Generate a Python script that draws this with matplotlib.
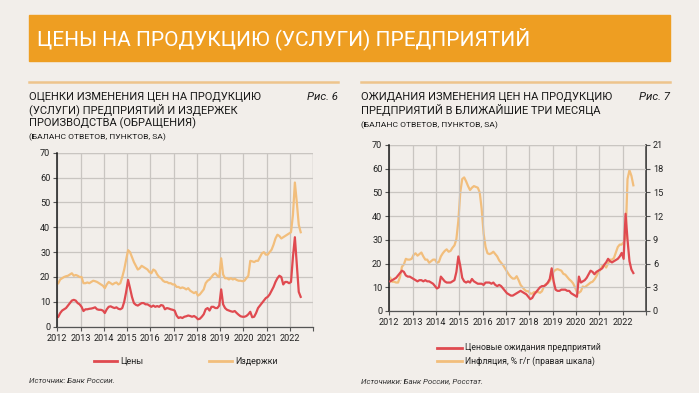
import numpy as np
import matplotlib
matplotlib.use("Agg")
import matplotlib.pyplot as plt
from matplotlib.patches import Rectangle
from matplotlib.lines import Line2D

plt.rcParams['font.family'] = ['Roboto', 'DejaVu Sans']

# ---------------------------------------------------------------- data
# monthly, Jan 2012 .. Jun 2022
years = list(range(2012, 2023))

prices = [
    4.0, 5.5, 6.5, 7.0, 7.5, 8.5, 9.5, 10.5, 10.8, 10.5, 9.5, 9.0,
    8.0, 6.3, 7.0, 7.0, 7.2, 7.3, 7.5, 7.8, 7.0, 6.8, 6.8, 6.5,
    5.5, 7.0, 8.0, 8.2, 7.8, 7.5, 7.8, 7.2, 7.0, 7.5, 10.0, 14.0,
    18.8, 15.5, 12.0, 9.5, 8.8, 8.5, 9.0, 9.5, 9.5, 9.0, 9.0, 8.5,
    8.0, 8.5, 8.0, 8.3, 8.0, 8.7, 8.5, 7.0, 7.5, 7.3, 7.0, 6.8,
    6.5, 4.5, 3.5, 3.8, 3.5, 4.0, 4.2, 4.5, 4.3, 4.0, 4.3, 3.8,
    3.0, 3.2, 4.0, 5.0, 7.0, 7.5, 6.5, 8.0, 8.0, 7.5, 7.5, 8.5,
    15.0, 9.0, 7.5, 6.8, 6.5, 6.2, 6.0, 6.3, 5.5, 4.8, 4.2, 4.0,
    4.0, 4.3, 5.0, 6.0, 3.8, 4.0, 5.5, 7.5, 8.5, 9.5, 10.5, 11.5,
    12.0, 13.0, 14.5, 16.0, 18.0, 19.5, 20.5, 20.0, 17.0, 18.0, 18.0, 17.5,
    18.0, 28.0, 36.0, 25.0, 14.0, 12.0,
]

costs = [
    17.5, 19.0, 19.5, 20.0, 20.3, 20.5, 21.0, 21.5, 20.5, 20.8, 20.5, 20.0,
    20.0, 17.5, 17.5, 17.8, 17.5, 18.0, 18.5, 18.3, 18.0, 17.5, 17.0, 16.5,
    15.5, 17.0, 18.0, 17.5, 17.0, 17.5, 17.8, 17.0, 17.5, 20.0, 23.0, 27.0,
    30.8, 30.0, 28.0, 26.0, 24.5, 23.0, 23.5, 24.5, 24.0, 23.5, 23.0, 22.0,
    21.5, 23.0, 22.5, 21.0, 20.0, 19.5, 18.5, 18.0, 18.0, 17.5, 17.5, 17.0,
    17.0, 16.0, 16.0, 15.5, 15.8, 15.5, 15.0, 15.5, 14.5, 14.0, 13.5, 14.0,
    12.5, 13.0, 14.0, 15.0, 17.5, 18.5, 19.0, 20.0, 21.0, 21.5, 20.5, 20.0,
    27.5, 21.0, 19.5, 19.5, 19.0, 19.5, 19.0, 19.3, 18.8, 18.5, 18.5, 18.3,
    18.5, 19.5, 20.5, 26.5, 26.3, 26.0, 26.5, 26.5, 28.0, 29.5, 30.0, 29.0,
    29.0, 30.0, 31.0, 33.0, 35.5, 37.0, 36.5, 35.5, 36.0, 36.5, 37.0, 37.5,
    38.0, 45.0, 58.0, 50.0, 41.0, 38.0,
]

expectations = [
    12.5, 13.0, 13.5, 14.0, 15.0, 16.0, 17.0, 16.5, 15.0, 14.5, 14.5, 14.0,
    13.5, 13.0, 12.5, 13.0, 13.0, 12.5, 13.0, 12.5, 12.5, 12.0, 11.5, 10.5,
    9.5, 10.0, 14.5, 13.5, 12.5, 12.0, 12.0, 12.0, 12.5, 13.0, 16.5, 23.0,
    19.0, 14.0, 12.5, 12.0, 12.5, 12.0, 13.5, 12.5, 12.0, 11.5, 11.5, 11.5,
    11.0, 12.0, 12.0, 12.0, 11.5, 12.0, 11.0, 10.5, 11.0, 10.5, 9.5, 8.5,
    7.5, 7.0, 6.5, 6.5, 7.0, 7.5, 8.0, 8.5, 8.0, 7.5, 7.0, 6.0,
    5.0, 5.5, 7.0, 8.0, 9.0, 10.0, 10.5, 10.5, 11.0, 12.0, 13.5, 18.0,
    12.5, 9.0, 8.5, 8.5, 9.0, 9.0, 9.0, 8.5, 8.5, 7.5, 7.0, 6.5,
    6.0, 14.5, 12.0, 12.5, 13.0, 14.0, 15.5, 17.0, 16.5, 15.5, 16.5, 17.0,
    17.5, 18.0, 19.5, 20.5, 22.0, 21.0, 20.5, 21.0, 21.5, 22.0, 23.0, 24.5,
    22.0, 41.0, 30.0, 21.0, 17.5, 16.0,
]

inflation = [
    4.2, 3.7, 3.7, 3.6, 3.6, 4.3, 5.6, 5.9, 6.6, 6.5, 6.5, 6.6,
    7.1, 7.3, 7.0, 7.2, 7.4, 6.9, 6.5, 6.5, 6.1, 6.3, 6.5, 6.5,
    6.1, 6.2, 6.9, 7.3, 7.6, 7.8, 7.5, 7.6, 8.0, 8.3, 9.1, 11.4,
    15.0, 16.7, 16.9, 16.4, 15.8, 15.3, 15.6, 15.8, 15.7, 15.6, 15.0, 12.9,
    9.8, 8.1, 7.3, 7.2, 7.3, 7.5, 7.2, 6.9, 6.4, 6.1, 5.8, 5.4,
    5.0, 4.6, 4.3, 4.1, 4.1, 4.4, 3.9, 3.3, 3.0, 2.7, 2.5, 2.5,
    2.2, 2.2, 2.4, 2.4, 2.4, 2.3, 2.5, 3.1, 3.4, 3.5, 3.8, 4.3,
    5.0, 5.2, 5.3, 5.2, 5.1, 4.7, 4.6, 4.3, 4.0, 3.8, 3.5, 3.0,
    2.4, 2.3, 2.5, 3.1, 3.0, 3.2, 3.4, 3.6, 3.7, 4.0, 4.4, 4.9,
    5.2, 5.7, 5.8, 5.5, 6.0, 6.5, 6.5, 6.7, 7.4, 8.1, 8.4, 8.4,
    8.7, 9.2, 16.7, 17.8, 17.1, 15.9,
]

x = 2012 + (np.arange(len(prices)) + 0.5) / 12

# ---------------------------------------------------------------- style
BG = '#F2EEEA'
ORANGE = '#EE9E22'
RED = '#E04A50'
LIGHT = '#F2BE7C'
GRID = '#C9C5C1'
W, H = 699, 393


def fx(px):
    return px / W


def fy(py):
    return 1 - py / H


fig = plt.figure(figsize=(W / 100, H / 100), dpi=100, facecolor=BG)

# banner
fig.patches.append(Rectangle((fx(29), fy(61)), fx(670) - fx(29), fy(15) - fy(61),
                             transform=fig.transFigure, color=ORANGE, zorder=0))
fig.text(fx(37), fy(38.5), 'ЦЕНЫ НА ПРОДУКЦИЮ (УСЛУГИ) ПРЕДПРИЯТИЙ',
         color='white', fontsize=15, va='center', ha='left')

# thin separators
for x0, x1 in [(29, 338), (361, 670)]:
    fig.add_artist(Line2D([fx(x0), fx(x1)], [fy(82), fy(82)], color='#EEC48C', lw=1.8))

# titles
title_kw = dict(fontsize=8.0, color='#1A1A1A', va='center', ha='left')
fig.text(fx(29), fy(97), 'ОЦЕНКИ ИЗМЕНЕНИЯ ЦЕН НА ПРОДУКЦИЮ', **title_kw)
fig.text(fx(29), fy(110), '(УСЛУГИ) ПРЕДПРИЯТИЙ И ИЗДЕРЖЕК', **title_kw)
fig.text(fx(29), fy(123), 'ПРОИЗВОДСТВА (ОБРАЩЕНИЯ)', **title_kw)
fig.text(fx(29), fy(137), '(БАЛАНС ОТВЕТОВ, ПУНКТОВ, SA)', fontsize=6.1, color='#1A1A1A', va='center')
fig.text(fx(338), fy(97), 'Рис. 6', fontsize=8.2, style='italic', color='#1A1A1A', va='center', ha='right')

fig.text(fx(361), fy(97), 'ОЖИДАНИЯ ИЗМЕНЕНИЯ ЦЕН НА ПРОДУКЦИЮ', **title_kw)
fig.text(fx(361), fy(110), 'ПРЕДПРИЯТИЙ В БЛИЖАЙШИЕ ТРИ МЕСЯЦА', **title_kw)
fig.text(fx(361), fy(125), '(БАЛАНС ОТВЕТОВ, ПУНКТОВ, SA)', fontsize=6.1, color='#1A1A1A', va='center')
fig.text(fx(670), fy(97), 'Рис. 7', fontsize=8.2, style='italic', color='#1A1A1A', va='center', ha='right')

# sources
fig.text(fx(29), fy(381), 'Источник: Банк России.', fontsize=5.7, style='italic', color='#333333', va='center')
fig.text(fx(361), fy(381), 'Источники: Банк России, Росстат.', fontsize=5.7, style='italic', color='#333333', va='center')


def setup(ax):
    ax.set_facecolor(BG)
    ax.set_xlim(2012, 2023)
    ax.set_ylim(0, 70)
    ax.set_xticks(range(2012, 2024))
    ax.set_xticklabels([str(y) for y in years] + [''])
    ax.set_yticks(range(0, 71, 10))
    ax.grid(True, color=GRID, lw=0.9, zorder=0)
    ax.set_axisbelow(True)
    for s in ['top', 'right']:
        ax.spines[s].set_visible(False)
    ax.spines['left'].set_color('#1A1A1A')
    ax.spines['left'].set_linewidth(1.1)
    ax.spines['bottom'].set_color('#555555')
    ax.spines['bottom'].set_linewidth(0.9)
    ax.tick_params(axis='both', labelsize=6.6, colors='#555555', labelcolor='#222222',
                   length=3, width=0.8, pad=2)
    # close the frame with grid-coloured top/right lines
    ax.axhline(70, color=GRID, lw=0.9, zorder=0)
    ax.axvline(2023, color=GRID, lw=0.9, zorder=0)


# ---------------------------------------------------------------- left chart
ax1 = fig.add_axes([fx(57.3), fy(326.7), fx(313.3) - fx(57.3), fy(152.7) - fy(326.7)])
setup(ax1)
ax1.plot(x, costs, color=LIGHT, lw=1.6, solid_joinstyle='round')
ax1.plot(x, prices, color=RED, lw=1.6, solid_joinstyle='round')

# legend (left)
fig.add_artist(Line2D([fx(94), fx(117)], [fy(361), fy(361)], color=RED, lw=2))
fig.text(fx(120), fy(361), 'Цены', fontsize=6.4, va='center', color='#222222')
fig.add_artist(Line2D([fx(209), fx(232)], [fy(361), fy(361)], color=LIGHT, lw=2))
fig.text(fx(235), fy(361), 'Издержки', fontsize=6.4, va='center', color='#222222')

# ---------------------------------------------------------------- right chart
ax2 = fig.add_axes([fx(389.3), fy(311), fx(646) - fx(389.3), fy(145) - fy(311)])
setup(ax2)
ax3 = ax2.twinx()
ax3.set_ylim(0, 21)
ax3.set_yticks(range(0, 22, 3))
for s in ['top', 'left', 'bottom']:
    ax3.spines[s].set_visible(False)
ax3.spines['right'].set_color('#1A1A1A')
ax3.spines['right'].set_linewidth(1.1)
ax3.tick_params(axis='y', labelsize=6.6, colors='#555555', labelcolor='#222222',
                length=3, width=0.8, pad=2)
ax3.plot(x, inflation, color=LIGHT, lw=1.6, solid_joinstyle='round', zorder=2)
ax2.set_zorder(ax3.get_zorder() + 1)
ax2.patch.set_visible(False)
ax3.patch.set_facecolor(BG)
ax2.plot(x, expectations, color=RED, lw=1.6, solid_joinstyle='round', zorder=3)
ax3.grid(False)

# legend (right)
fig.add_artist(Line2D([fx(437), fx(462)], [fy(348), fy(348)], color=RED, lw=2))
fig.text(fx(465), fy(348), 'Ценовые ожидания предприятий', fontsize=6.2, va='center', color='#222222')
fig.add_artist(Line2D([fx(437), fx(462)], [fy(361), fy(361)], color=LIGHT, lw=2))
fig.text(fx(465), fy(361), 'Инфляция, % г/г (правая шкала)', fontsize=6.2, va='center', color='#222222')

fig.savefig('out.png', dpi=100, facecolor=BG)
